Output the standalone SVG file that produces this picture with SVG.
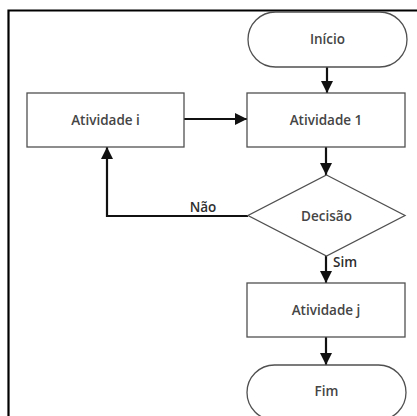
<svg xmlns="http://www.w3.org/2000/svg" width="417" height="416" viewBox="0 0 417 416">
  <style>
    .shape { fill: #ffffff; stroke: #505050; stroke-width: 1.3; }
    .label { font-family: "Open Sans", "Liberation Sans", sans-serif; font-size: 13.5px; font-weight: 600; fill: #454545; text-anchor: middle; dominant-baseline: central; }
    .edge { fill: none; stroke: #111111; stroke-width: 2.2; }
    .edge-label { font-family: "Open Sans", "Liberation Sans", sans-serif; font-size: 13.5px; font-weight: 600; fill: #2e2e2e; }
  </style>
  <defs>
    <marker id="arrow" viewBox="0 0 10 10" refX="10" refY="5" markerWidth="5.6" markerHeight="5.6" orient="auto" markerUnits="strokeWidth">
      <path d="M0,0 L10,5 L0,10 Z" fill="#111111"/>
    </marker>
  </defs>

  <rect width="417" height="416" fill="#ffffff"/>
  <!-- outer frame -->
  <path d="M8.5,420 V10.5 H420" fill="none" stroke="#000000" stroke-width="2.2"/>

  <g id="connectors">
    <path class="edge" d="M327,67 V93" marker-end="url(#arrow)"/>
    <path class="edge" d="M184,119 H247" marker-end="url(#arrow)"/>
    <path class="edge" d="M326,147 V175" marker-end="url(#arrow)"/>
    <path class="edge" d="M248,216 H107 V147" marker-end="url(#arrow)"/>
    <path class="edge" d="M326,256 V283" marker-end="url(#arrow)"/>
    <path class="edge" d="M326,337 V365" marker-end="url(#arrow)"/>
    <text class="edge-label" x="203" y="212" text-anchor="middle">Não</text>
    <text class="edge-label" x="333" y="267">Sim</text>
  </g>

  <g id="inicio">
    <rect class="shape" x="248" y="12" width="159" height="55" rx="27.5" ry="27.5"/>
    <text class="label" x="327.5" y="39">Início</text>
  </g>

  <g id="atividade-1">
    <rect class="shape" x="247" y="93" width="158" height="54"/>
    <text class="label" x="326" y="120">Atividade 1</text>
  </g>

  <g id="atividade-i">
    <rect class="shape" x="27" y="93" width="157" height="54"/>
    <text class="label" x="105.5" y="120">Atividade i</text>
  </g>

  <g id="decisao">
    <polygon class="shape" points="326.5,175 405,215.5 326.5,256 248,215.5"/>
    <text class="label" x="326.5" y="216">Decisão</text>
  </g>

  <g id="atividade-j">
    <rect class="shape" x="247" y="283" width="158" height="54"/>
    <text class="label" x="326" y="310">Atividade j</text>
  </g>

  <g id="fim">
    <rect class="shape" x="247" y="365" width="159" height="55" rx="27.5" ry="27.5"/>
    <text class="label" x="326.5" y="391">Fim</text>
  </g>
</svg>
